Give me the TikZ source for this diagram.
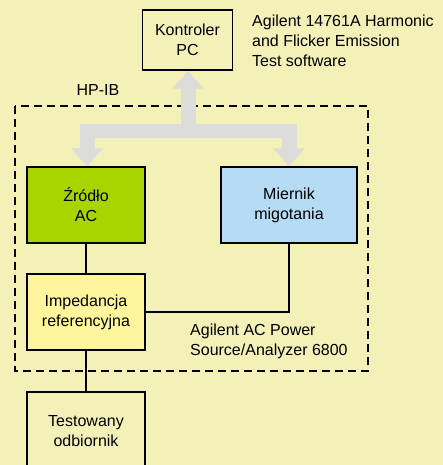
\documentclass[tikz,border=0pt]{standalone}
\usepackage{fontspec}
\setmainfont{Liberation Sans}
\usetikzlibrary{arrows.meta,calc}
\definecolor{bgc}{HTML}{F3F0B8}
\definecolor{greenc}{HTML}{A8D400}
\definecolor{bluec}{HTML}{B6DCF5}
\definecolor{yellowc}{HTML}{FFF59C}
\definecolor{busc}{HTML}{DCDCDA}
\begin{document}
\begin{tikzpicture}[x=1pt,y=-1pt,
  box/.style={draw=black,line width=1.3pt,minimum width=118pt,minimum height=76pt,inner sep=0pt,align=center,font=\fontsize{16}{20}\selectfont},
  lbl/.style={inner sep=0pt,align=left,font=\fontsize{16}{20}\selectfont},
  wire/.style={draw=black,line width=2.2pt},
  bus/.style={draw=busc,line width=15pt,-{Triangle[width=30pt,length=18pt]}}]
\fill[bgc] (0,0) rectangle (443,465);
\useasboundingbox (0,0) rectangle (443,465);
% dashed frame
\draw[line width=1.2pt,dash pattern=on 8pt off 5pt] (15,106) rectangle (368,371);
% nodes
\node[box,minimum width=90pt,minimum height=60pt] (pc) at (187.5,40) {Kontroler\\PC};
\node[box,fill=greenc] (zr) at (86,205) {Źródło\\AC};
\node[box,fill=bluec,minimum width=136pt] (mg) at (289,205) {Miernik\\migotania};
\node[box,fill=yellowc] (imp) at (86,312) {Impedancja\\referencyjna};
\node[box,minimum height=78pt] (ts) at (86,431) {Testowany\\odbiornik};
\node[lbl,anchor=west] (sw) at (252,40.5) {Agilent 14761A Harmonic\\and Flicker Emission\\Test software};
\node[lbl] (hpib) at (98,90) {HP-IB};
\node[lbl,anchor=west] (an) at (190,341) {Agilent AC Power\\Source/Analyzer 6800};
% bus
\coordinate (jc) at (188,131.5);
\coordinate (jl) at (87,131.5);
\coordinate (jr) at (289,131.5);
\fill[busc] (79.5,124.5) rectangle (296.5,138.5);
\draw[bus] (jc) -- (pc.south -| jc);
\draw[bus] (jl) -- (zr.north -| jl);
\draw[bus] (jr) -- (mg.north -| jr);
% wires
\draw[wire] (zr.south) -- (imp.north);
\draw[wire] (mg.south) |- (imp.east);
\draw[wire] (imp.south) -- (ts.north);
\end{tikzpicture}
\end{document}
